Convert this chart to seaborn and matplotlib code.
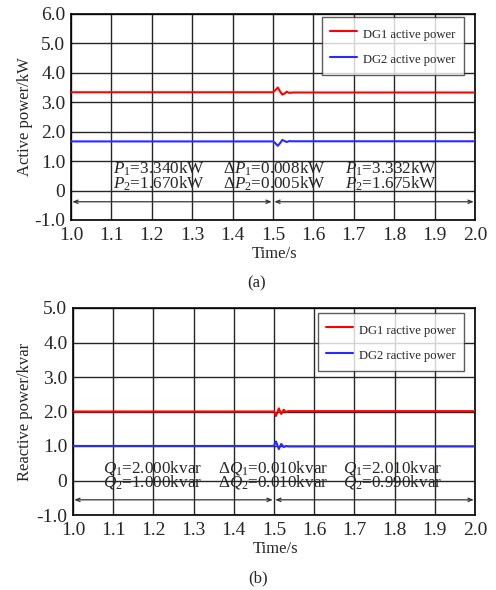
import numpy as np
import pandas as pd
import matplotlib
matplotlib.use("Agg")
import matplotlib.pyplot as plt
import seaborn as sns

# ---- data -------------------------------------------------------------
# active power (kW): steady values and the transient after the load step at 1.5 s
t_p = [1.0, 1.5, 1.505, 1.512, 1.518, 1.523, 1.529, 1.534, 1.540, 1.550, 2.0]
p_dg1 = [3.340, 3.340, 3.40, 3.50, 3.36, 3.26, 3.30, 3.36, 3.32, 3.332, 3.332]
p_dg2 = [1.670, 1.670, 1.62, 1.52, 1.62, 1.72, 1.68, 1.65, 1.68, 1.675, 1.675]

# reactive power (kvar)
t_q = [1.0, 1.5, 1.505, 1.512, 1.518, 1.524, 1.530, 1.536, 2.0]
q_dg1 = [2.000, 2.000, 1.87, 2.09, 1.93, 2.05, 1.99, 2.010, 2.010]
q_dg2 = [1.000, 1.000, 1.13, 0.91, 1.06, 0.97, 1.00, 0.990, 0.990]

x_ticks = [1.0, 1.1, 1.2, 1.3, 1.4, 1.5, 1.6, 1.7, 1.8, 1.9, 2.0]
x_labels = ["1.0", "1.1", "1.2", "1.3", "1.4", "1.5", "1.6", "1.7", "1.8", "1.9", "2.0"]
yp_ticks = [-1.0, 0.0, 1.0, 2.0, 3.0, 4.0, 5.0, 6.0]
yp_labels = ["-1.0", "0", "1.0", "2.0", "3.0", "4.0", "5.0", "6.0"]
yq_ticks = [-1.0, 0.0, 1.0, 2.0, 3.0, 4.0, 5.0]
yq_labels = ["-1.0", "0", "1.0", "2.0", "3.0", "4.0", "5.0"]

p_notes = [
    (1.104, 0.75, r"$P_1$=3.340kW"), (1.104, 0.22, r"$P_2$=1.670kW"),
    (1.376, 0.75, r"$\Delta P_1$=0.008kW"), (1.376, 0.22, r"$\Delta P_2$=0.005kW"),
    (1.678, 0.75, r"$P_1$=3.332kW"), (1.678, 0.22, r"$P_2$=1.675kW"),
]
q_notes = [
    (1.075, 0.36, r"$Q_1$=2.000kvar"), (1.075, -0.03, r"$Q_2$=1.000kvar"),
    (1.361, 0.36, r"$\Delta Q_1$=0.010kvar"), (1.361, -0.03, r"$\Delta Q_2$=0.010kvar"),
    (1.672, 0.36, r"$Q_1$=2.010kvar"), (1.672, -0.03, r"$Q_2$=0.990kvar"),
]

# ---- style ------------------------------------------------------------
sns.set_style("white")
plt.rcParams["font.family"] = ["Liberation Serif", "DejaVu Serif"]
plt.rcParams["mathtext.fontset"] = "custom"
plt.rcParams["mathtext.rm"] = "Liberation Serif"
plt.rcParams["mathtext.it"] = "Liberation Serif:italic"

RED = "#ff0000"
BLUE = "#2a2aff"

fig = plt.figure(figsize=(4.96, 5.90), dpi=100)
ax_p = fig.add_axes([71 / 496, 1 - 220 / 590, 404 / 496, 206 / 590])
ax_q = fig.add_axes([73 / 496, 1 - 515 / 590, 402 / 496, 207 / 590])

df_p = pd.concat([
    pd.DataFrame({"t": t_p, "v": p_dg1, "s": "DG1 active power"}),
    pd.DataFrame({"t": t_p, "v": p_dg2, "s": "DG2 active power"}),
])
df_q = pd.concat([
    pd.DataFrame({"t": t_q, "v": q_dg1, "s": "DG1 ractive power"}),
    pd.DataFrame({"t": t_q, "v": q_dg2, "s": "DG2 ractive power"}),
])


def style_axes(ax, yticks, ylabels, ylabel, ylabel_x, notes, arrow_y, tag, ylim, leg_anchor):
    ax.set_xlim(1.0, 2.0)
    ax.set_ylim(*ylim)
    ax.set_xticks(x_ticks)
    ax.set_xticklabels(x_labels)
    ax.set_yticks(yticks)
    ax.set_yticklabels(ylabels)
    ax.tick_params(length=0, labelsize=14, pad=4)
    ax.tick_params(axis="x", pad=5)
    ax.grid(True, color="#262626", linewidth=1.0)
    ax.set_axisbelow(True)
    for sp in ax.spines.values():
        sp.set_color("black")
        sp.set_linewidth(1.2)
    ax.set_xlabel("")
    ax.set_ylabel(ylabel, fontsize=12)
    ax.yaxis.set_label_coords(ylabel_x, 0.5)
    for x, y, s in notes:
        ax.text(x, y, s, fontsize=12.3, ha="left", va="center", zorder=5)
    for x0, x1 in [(1.003, 1.497), (1.503, 1.997)]:
        ax.annotate("", xy=(x0, arrow_y), xytext=(x1, arrow_y),
                    arrowprops=dict(arrowstyle="<->,head_length=0.3,head_width=0.12",
                                    color="#333333", lw=0.9, shrinkA=0, shrinkB=0))
    leg = ax.legend(loc="upper right", bbox_to_anchor=leg_anchor, fontsize=9.1,
                    frameon=True, fancybox=False, edgecolor="#333333",
                    handlelength=2.1, handleheight=1.6, handletextpad=0.5,
                    borderpad=0.66, labelspacing=0.72, borderaxespad=0)
    leg.get_frame().set_linewidth(1.0)
    bb = ax.get_position()
    fig.text(bb.x0 + bb.width * 0.505, bb.y0 - 34 / 590, "Time/s",
             ha="center", va="center", fontsize=12)
    fig.text(bb.x0 + bb.width * 0.46, bb.y0 - 63 / 590, tag,
             ha="center", va="center", fontsize=12)


sns.lineplot(data=df_p, x="t", y="v", hue="s", palette=[RED, BLUE],
             linewidth=1.5, ax=ax_p, estimator=None, sort=False)
sns.lineplot(data=df_q, x="t", y="v", hue="s", palette=[RED, BLUE],
             linewidth=1.5, ax=ax_q, estimator=None, sort=False)
for ax in (ax_p, ax_q):
    for ln in ax.get_lines():
        ln.set_zorder(4)

style_axes(ax_p, yp_ticks, yp_labels, "Active power/kW", (33 - 71) / 404, p_notes,
           -0.38, "(a)", (-1.0, 6.0), ((464 - 71) / 404, (220 - 17) / 206))
style_axes(ax_q, yq_ticks, yq_labels, "Reactive power/kvar", (33 - 73) / 402, q_notes,
           -0.56, "(b)", (-1.0, 5.0), ((464 - 73) / 402, (515 - 313) / 207))

fig.savefig("out.png", dpi=100)
